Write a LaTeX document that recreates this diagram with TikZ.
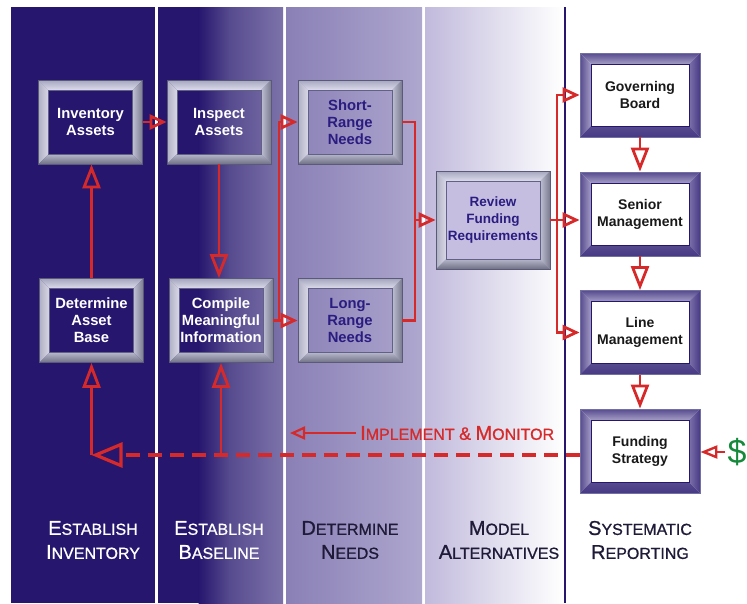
\documentclass[tikz,border=0pt]{standalone}
\usepackage{fontspec}
\setmainfont{Liberation Sans}
\newfontfamily\labfont{Liberation Sans}[FakeBold=0.9]
\usetikzlibrary{arrows.meta}
\definecolor{navy}{HTML}{27166E}
\definecolor{ctwomid}{HTML}{574B8F}
\definecolor{ctwoend}{HTML}{7D73AA}
\definecolor{cthreea}{HTML}{8A80B6}
\definecolor{cthreeb}{HTML}{AEA7CE}
\definecolor{cfoura}{HTML}{C1BADC}
\definecolor{redA}{HTML}{D62A2A}
\definecolor{grn}{HTML}{168A3C}
\definecolor{lblk}{HTML}{1E1A38}
\definecolor{boxnavy}{HTML}{2A1C80}
\definecolor{revfill}{HTML}{C5BEE0}
\newcommand\SC[2]{{\fontsize{20}{24}\selectfont #1}{\fontsize{16}{24}\selectfont #2}}
\newcommand\bevelfaces[6]{%
  \def\bvw{#1}%
  \path (path picture bounding box.north west) coordinate (oNW)
        (path picture bounding box.north east) coordinate (oNE)
        (path picture bounding box.south west) coordinate (oSW)
        (path picture bounding box.south east) coordinate (oSE);
  \path ([shift={(\bvw,-\bvw)}]oNW) coordinate (iNW)
        ([shift={(-\bvw,-\bvw)}]oNE) coordinate (iNE)
        ([shift={(\bvw,\bvw)}]oSW) coordinate (iSW)
        ([shift={(-\bvw,\bvw)}]oSE) coordinate (iSE);
  \shade[#2] (oNW) -- (oNE) -- (iNE) -- (iNW) -- cycle;
  \shade[#3] (oNW) -- (iNW) -- (iSW) -- (oSW) -- cycle;
  \shade[#4] (oNE) -- (oSE) -- (iSE) -- (iNE) -- cycle;
  \shade[#5] (oSW) -- (iSW) -- (iSE) -- (oSE) -- cycle;
  \draw[#6, line width=0.7pt] (iNW) rectangle (iSE);
}
\tikzset{
  gbox/.style={draw=black!60!blue!30!gray, line width=0.8pt, minimum width=104pt, minimum height=84pt,
    inner sep=0pt, align=center,
    path picture={\bevelfaces{10pt}{top color=black!28!white!90!blue, bottom color=black!8!white!94!blue}%
      {left color=black!25!white!92!blue, right color=black!10!white!94!blue}%
      {left color=black!18!white!92!blue, right color=black!48!white!92!blue}%
      {top color=black!22!white!92!blue, bottom color=black!52!white!92!blue}{black!55!white!85!blue}}},
  pbox/.style={draw=black!45!white!80!blue, line width=0.8pt, fill=white, minimum width=120pt, minimum height=84pt,
    inner sep=0pt, align=center, text=black!90,
    font=\bfseries\fontsize{14}{17}\selectfont,
    path picture={\bevelfaces{11pt}{top color=ctwomid, bottom color=ctwoend!70!white}%
      {left color=ctwomid, right color=ctwoend!70!white}%
      {left color=ctwoend, right color=navy!85!white}%
      {top color=ctwomid, bottom color=navy!85!white}{navy}}},
  txtw/.style={text=white, font=\bfseries\fontsize{14.8}{17}\selectfont},
  txtn/.style={text=boxnavy, font=\bfseries\fontsize{14.8}{17}\selectfont},
  ln/.style={draw=redA, line width=2.8pt},
  arh/.style={ln, -{Triangle[open,length=17pt,width=15pt]}},
  arv/.style={ln, -{Triangle[open,length=24pt,width=18pt]}},
  dsh/.style={draw=redA, line width=3.2pt, dash pattern=on 14pt off 8pt, -{Triangle[open,length=31pt,width=25pt]}},
  lab/.style={align=center, inner sep=0pt, font=\labfont\fontsize{16}{24}\selectfont},
}
\begin{document}
\begin{tikzpicture}[x=1pt,y=-1pt]
\useasboundingbox (0,0) rectangle (747,603);
% column backgrounds
\fill[navy] (11,7) rectangle (155,603);
\fill[navy] (158,7) rectangle (283,603);
\shade[left color=navy, right color=ctwomid] (198.5,7) rectangle (230,603);
\shade[left color=ctwomid, right color=ctwoend] (229.5,7) rectangle (283,603);
\shade[left color=cthreea, right color=cthreeb] (286,7) rectangle (422,603);
\shade[left color=cfoura, right color=white] (425,7) rectangle (564,603);
\fill[navy] (564,7) rectangle (566,603);

% boxes
\node[gbox, txtw] (inv) at (90.5,122) {Inventory\\Assets};
\node[gbox, txtw] (insp) at (219,122) {Inspect\\Assets};
\node[gbox, txtn] (srn) at (350,122) {Short-\\Range\\Needs};
\node[gbox, txtw] (det) at (91.5,320.5) {Determine\\Asset\\Base};
\node[gbox, txtw] (comp) at (221,320.5) {Compile\\Meaningful\\Information};
\node[gbox, txtn] (lrn) at (350,320.5) {Long-\\Range\\Needs};
\node[gbox, txtn, fill=revfill, minimum width=114pt, minimum height=98pt,
  font=\bfseries\fontsize{13.5}{17}\selectfont] (rev) at (493,220) {Review\\Funding\\Requirements};
\node[pbox] (gov) at (640,95) {Governing\\Board};
\node[pbox] (sen) at (640,214) {Senior\\Management};
\node[pbox] (lm) at (640,332.5) {Line\\Management};
\node[pbox] (fund) at (640,451) {Funding\\Strategy};

% connectors
\draw[arh] (inv.east) -- (insp.west);
\draw[arv] (det.north) -- (det.north |- inv.south);
\draw[arv] (insp.south) -- (insp.south |- comp.north);
\coordinate (f1) at (279,320.5);
\draw[ln] (comp.east) -- (f1);
\draw[arh] (f1) |- (srn.west);
\draw[arh] (f1) -- (lrn.west);
\coordinate (m1) at (415,220);
\draw[ln] (srn.east) -| (m1);
\draw[ln] (lrn.east) -| (m1);
\draw[arh] (m1) -- (rev.west);
\coordinate (f2) at (557,220);
\draw[ln] (rev.east) -- (f2);
\draw[arh] (f2) |- (gov.west);
\draw[arh] (f2) -- (f2 -| sen.west);
\draw[arh] (f2) |- (lm.west);
\draw[arv] (gov.south) -- (sen.north);
\draw[arv] (sen.south) -- (lm.north);
\draw[arv] (lm.south) -- (fund.north);

% dollar
\node[text=grn, font=\fontsize{34}{34}\selectfont, inner sep=0pt] (dollar) at (737,452) {\$};
\draw[ln, line width=2.4pt, -{Triangle[open,length=17pt,width=13pt]}] ([xshift=-2pt]dollar.west) -- (dollar.west -| fund.east);

% feedback
\coordinate (lvl) at (0,455);
\coordinate (c1) at (det.south |- lvl);
\coordinate (c2) at (comp.south |- lvl);
\draw[dsh] (fund.west |- lvl) -- (c1);
\draw[ln, -{Triangle[open,length=25pt,width=18pt]}] (c1) -- (det.south);
\draw[ln, -{Triangle[open,length=25pt,width=18pt]}] (c2) -- (comp.south);

\node[anchor=west, inner sep=0pt, text=redA, font=\labfont\fontsize{16}{24}\selectfont] (imp) at (360,433)
  {\SC{I}{MPLEMENT} {\fontsize{18}{24}\selectfont\&} \SC{M}{ONITOR}};
\coordinate (impend) at (290,433);
\draw[ln, line width=2.2pt, -{Triangle[open,length=15pt,width=13pt]}] ([xshift=-4pt]imp.west) -- (impend);

% column labels
\node[lab, text=white] (l1) at (93,540) {\SC{E}{STABLISH}\\\SC{I}{NVENTORY}};
\node[lab, text=white] (l2) at (219,540) {\SC{E}{STABLISH}\\\SC{B}{ASELINE}};
\node[lab, text=lblk] (l3) at (350,540) {\SC{D}{ETERMINE}\\\SC{N}{EEDS}};
\node[lab, text=lblk] (l4) at (499,540) {\SC{M}{ODEL}\\\SC{A}{LTERNATIVES}};
\node[lab, text=lblk] (l5) at (640,540) {\SC{S}{YSTEMATIC}\\\SC{R}{EPORTING}};
\end{tikzpicture}
\end{document}
